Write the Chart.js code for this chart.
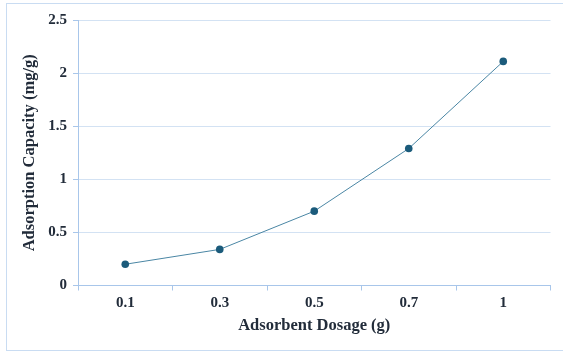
<!DOCTYPE html>
<html><head><meta charset="utf-8">
<script src="https://cdn.jsdelivr.net/npm/chart.js@4"></script>
<style>
html,body{margin:0;padding:0;background:#fff;}
#wrap{position:relative;width:563px;height:354px;overflow:hidden;}
#frame{position:absolute;left:6px;top:3px;width:560px;height:348px;border:1px solid #c9dcf2;box-sizing:border-box;}
canvas{position:absolute;left:0;top:0;}
</style></head>
<body><div id="wrap"><div id="frame"></div><canvas id="c" width="563" height="354"></canvas></div>
<script>
const categories = ['0.1','0.3','0.5','0.7','1'];
const capacity = [0.20, 0.34, 0.70, 1.29, 2.11];
const yTicks = [0, 0.5, 1, 1.5, 2, 2.5];
const xTitle = 'Adsorbent Dosage (g)';
const yTitle = 'Adsorption Capacity (mg/g)';

const textColor = '#222c3a';
const gridColor = '#d3e2f3';
const axisColor = '#a8c6ea';
const fontFam = "'Liberation Serif','Times New Roman',serif";

new Chart(document.getElementById('c'), {
  type: 'line',
  data: {
    labels: categories,
    datasets: [{
      data: capacity,
      borderColor: '#4a86a4',
      borderWidth: 1,
      pointBackgroundColor: '#1b5b7b',
      pointBorderColor: '#1b5b7b',
      pointRadius: 3.8,
      pointBorderWidth: 0,
      tension: 0,
      fill: false
    }]
  },
  options: {
    responsive: false,
    animation: false,
    devicePixelRatio: 1,
    layout: { padding: { top: 20, right: 12.5, left: 0, bottom: 0 } },
    plugins: { legend: { display: false }, tooltip: { enabled: false } },
    scales: {
      x: {
        type: 'category',
        offset: true,
        grid: { display: true, drawOnChartArea: false, drawTicks: true, tickLength: 5, tickColor: axisColor, offset: true },
        border: { display: true, color: axisColor, width: 1 },
        ticks: { color: textColor, font: { family: fontFam, size: 15, weight: 'bold' }, padding: 4, maxRotation: 0 },
        title: { display: true, text: xTitle, color: textColor, font: { family: fontFam, size: 16.5, weight: 'bold' }, padding: { top: 0, bottom: 18 } },
        afterFit: s => { s.height = 68.5; }
      },
      y: {
        min: 0, max: 2.5,
        afterBuildTicks: s => { s.ticks = yTicks.map(v => ({ value: v })); },
        grid: { color: gridColor, lineWidth: 1, drawTicks: true, tickLength: 5, tickColor: axisColor },
        border: { display: true, color: axisColor, width: 1 },
        ticks: { color: textColor, font: { family: fontFam, size: 15, weight: 'bold' }, padding: 6, callback: v => String(v) },
        title: { display: true, text: yTitle, color: textColor, font: { family: fontFam, size: 16.5, weight: 'bold' }, padding: { top: 20, bottom: 0 } },
        afterFit: s => { s.width = 78; }
      }
    }
  }
});
</script></body></html>
